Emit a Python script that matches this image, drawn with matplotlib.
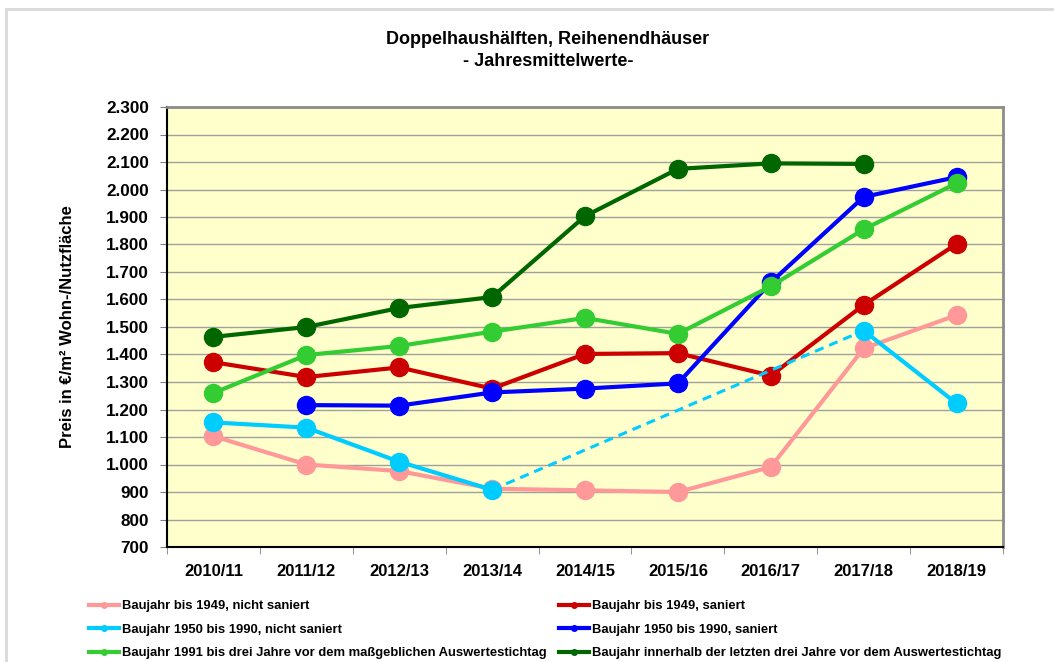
import numpy as np
import matplotlib
matplotlib.use("Agg")
import matplotlib.pyplot as plt
from matplotlib.patches import Rectangle
from matplotlib.ticker import FuncFormatter, FixedLocator

plt.rcParams['font.family'] = ['Liberation Sans', 'DejaVu Sans']
plt.rcParams['font.weight'] = 'bold'

jahre = ["2010/11", "2011/12", "2012/13", "2013/14", "2014/15",
         "2015/16", "2016/17", "2017/18", "2018/19"]

bis1949_nicht = [1103, 1000, 976, 912, 906, 900, 991, 1422, 1543]
bis1949_saniert = [1372, 1318, 1353, 1276, 1402, 1405, 1323, 1580, 1802]
b1950_nicht = [1153, 1134, 1010, 908, np.nan, np.nan, np.nan, 1487, 1222]
b1950_saniert = [np.nan, 1216, 1214, 1262, 1276, 1295, 1662, 1973, 2045]
b1991 = [1260, 1398, 1431, 1483, 1533, 1475, 1648, 1855, 2023]
neubau = [1464, 1500, 1569, 1609, 1903, 2075, 2095, 2093, np.nan]

labels = ["Baujahr bis 1949, nicht saniert",
          "Baujahr bis 1949, saniert",
          "Baujahr 1950 bis 1990, nicht saniert",
          "Baujahr 1950 bis 1990, saniert",
          "Baujahr 1991 bis drei Jahre vor dem maßgeblichen Auswertestichtag",
          "Baujahr innerhalb der letzten drei Jahre vor dem Auswertestichtag"]
farben = ["#FF9999", "#CC0000", "#00CCFF", "#0000FF", "#33CC33", "#006600"]
reihen = [bis1949_nicht, bis1949_saniert, b1950_nicht, b1950_saniert, b1991, neubau]

fig = plt.figure(figsize=(10.54, 6.62), dpi=100)
ax = fig.add_axes([167/1054, 115/662, 836/1054, 440/662])
ax.set_facecolor("#FFFFCC")

x = np.arange(len(jahre))
handles = []
for werte, farbe, lab in zip(reihen, farben, labels):
    y = np.array(werte, dtype=float)
    ok = ~np.isnan(y)
    # Luecken gestrichelt ueberbruecken
    idx = np.where(ok)[0]
    for a, b in zip(idx[:-1], idx[1:]):
        if b - a > 1:
            ax.plot([x[a], x[b]], [y[a], y[b]], color=farbe, lw=2.2,
                    ls=(0, (3, 2)), zorder=2)
    ax.plot(x, y, color=farbe, lw=3, marker="o", markersize=13, zorder=2)
    h, = plt.plot([], [], color=farbe, lw=3, marker="o", markersize=4)
    handles.append(h)

ax.set_xlim(-0.5, len(jahre) - 0.5)
ax.set_ylim(700, 2300)
ax.yaxis.set_major_locator(FixedLocator(np.arange(700, 2301, 100)))
ax.yaxis.set_major_formatter(FuncFormatter(lambda v, p: f"{v:,.0f}".replace(",", ".")))
ax.set_xticks(x)
ax.set_xticklabels(jahre)
ax.set_xticks(np.arange(-0.5, len(jahre)), minor=True)
ax.tick_params(axis="x", which="major", length=0, pad=12, labelsize=12)
ax.tick_params(axis="x", which="minor", length=5, color="#808080")
ax.tick_params(axis="y", length=5, color="#808080", pad=8, labelsize=12.3)
ax.grid(axis="y", color="#A0A0A0", lw=1)
ax.set_axisbelow(True)

for s in ["top", "right"]:
    ax.spines[s].set_color("#8C8C8C")
    ax.spines[s].set_linewidth(2)
for s in ["left", "bottom"]:
    ax.spines[s].set_color("black")
    ax.spines[s].set_linewidth(1.5)

ax.set_ylabel("Preis in €/m² Wohn-/Nutzfläche", fontsize=12, fontweight="bold",
              labelpad=22)
fig.text(548/1054, 1 - 40/662, "Doppelhaushälften, Reihenendhäuser",
         ha="center", va="center", fontsize=13)
fig.text(548/1054, 1 - 61/662, "- Jahresmittelwerte-",
         ha="center", va="center", fontsize=13)

# Legende: zwei Spalten, zeilenweise gefuellt
leg_kw = dict(frameon=False, handlelength=2.3, handletextpad=0.2,
              labelspacing=0.88, borderaxespad=0, borderpad=0,
              prop={"weight": "bold", "size": 9.4})
fig.legend(handles[0::2], labels[0::2], loc="upper left",
           bbox_to_anchor=(89/1054, 1 - 600/662), **leg_kw)
fig.legend(handles[1::2], labels[1::2], loc="upper left",
           bbox_to_anchor=(559/1054, 1 - 600/662), **leg_kw)

fig.patches.append(Rectangle((6/1054, -0.1), 1.2, 1 - 9/662 + 0.1,
                             transform=fig.transFigure, fill=False,
                             edgecolor="#D9D9D9", lw=2))

fig.savefig("out.png", dpi=100)
